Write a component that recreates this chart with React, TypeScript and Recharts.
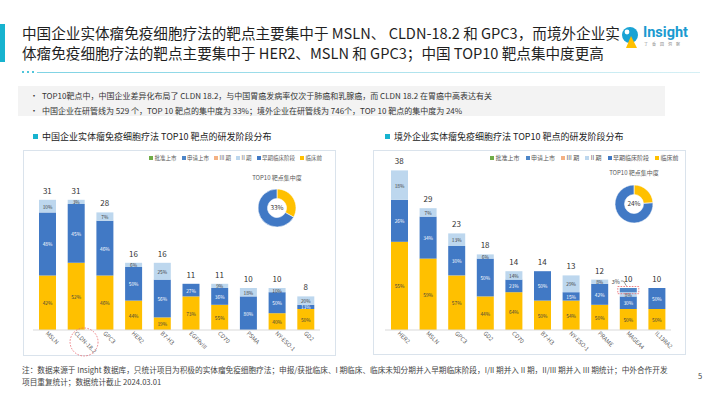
import React from "react";
import { ComposedChart, Bar, Line, XAxis, YAxis, LabelList, PieChart, Pie, Cell, Label } from "recharts";

const FONT = '"Noto Sans CJK SC", "Noto Sans", sans-serif';

// 中国企业 TOP10 靶点（项目数）
const cnTargets = ["MSLN", "CLDN-18.2", "GPC3", "HER2", "B7-H3", "EGFRvIII", "CD70", "PSMA", "NY-ESO-1", "GD2"];
const cnPreclinical = [13, 16, 13, 7, 3, 8, 6, 0, 4, 5];
const cnEarly = [15, 14, 13, 8, 9, 3, 4, 8, 5, 1];
const cnPhase2 = [3, 1, 2, 1, 4, 0, 1, 2, 1, 2];
const cnPhase3 = [0, 0, 0, 0, 0, 0, 0, 0, 0, 0];
const cnFiling = [0, 0, 0, 0, 0, 0, 0, 0, 0, 0];
const cnApproved = [0, 0, 0, 0, 0, 0, 0, 0, 0, 0];

// 境外企业 TOP10 靶点（项目数）
const osTargets = ["HER2", "MSLN", "GPC3", "GD2", "CD70", "B7-H3", "NY-ESO-1", "PRAME", "MAGEA4", "IL13RA2"];
const osPreclinical = [21, 17, 13, 8, 9, 7, 7, 6, 5, 5];
const osEarly = [10, 10, 7, 9, 3, 7, 2, 5, 3, 5];
const osPhase2 = [7, 2, 3, 1, 2, 0, 4, 1, 1, 0];
const osPhase3 = [0, 0, 0, 0, 0, 0, 0, 0, 0, 0];
const osFiling = [0, 0, 0, 0, 0, 0, 0, 0, 1, 0];
const osApproved = [0, 0, 0, 0, 0, 0, 0, 0, 0, 0];

// TOP10 靶点集中度
const cnConcentration = [33, 67];
const osConcentration = [24, 76];

const COLORS = {
  pre: "#ffc000",
  early: "#4179c5",
  p2: "#bdd7ee",
  p3: "#f4b183",
  filing: "#4e86c8",
  approved: "#70ad47",
};

const LEGEND = [
  { key: "approved", name: "批准上市" },
  { key: "filing", name: "申请上市" },
  { key: "p3", name: "III 期" },
  { key: "p2", name: "II 期" },
  { key: "early", name: "早期临床阶段" },
  { key: "pre", name: "临床前" },
];

function buildData(names, pre, early, p2, p3, filing, approved) {
  return names.map((name, i) => ({
    name,
    pre: pre[i],
    early: early[i],
    p2: p2[i],
    p3: p3[i],
    filing: filing[i],
    approved: approved[i],
    total: pre[i] + early[i] + p2[i] + p3[i] + filing[i] + approved[i],
  }));
}

const cnData = buildData(cnTargets, cnPreclinical, cnEarly, cnPhase2, cnPhase3, cnFiling, cnApproved);
const osData = buildData(osTargets, osPreclinical, osEarly, osPhase2, osPhase3, osFiling, osApproved);

function AngledTick(props) {
  const { x, y, payload } = props;
  return (
    <g transform={`translate(${x},${y})`}>
      {payload.value === "CLDN-18.2" && (
        <circle cx={8} cy={9} r={14} fill="none" stroke="#e8636b" strokeWidth={0.8} strokeDasharray="1.6 1.4" />
      )}
      <text x={-1} y={2} transform="rotate(45)" textAnchor="start" fontSize={5.8} fill="#595959" fontFamily={FONT}>
        {payload.value}
      </text>
    </g>
  );
}

function pctLabel(data, color) {
  return (props) => {
    const { x, y, width, height, value, index } = props;
    if (!value) return null;
    const pct = Math.round((value / data[index].total) * 100);
    return (
      <text
        x={x + width / 2}
        y={y + height / 2}
        textAnchor="middle"
        dominantBaseline="central"
        fontSize={4.8}
        fill={color}
        fontFamily={FONT}
      >
        {pct}%
      </text>
    );
  };
}

function filingNote(data) {
  return (props) => {
    const { x, y, width, height, value, index } = props;
    if (!value) return null;
    const pct = Math.round((value / data[index].total) * 100);
    return (
      <g>
        <rect x={x - 2} y={y - 1.5} width={width + 4} height={height + 3} fill="none" stroke="#e8636b" strokeWidth={0.8} strokeDasharray="1.6 1.2" />
        <text x={x} y={y - 6} textAnchor="end" dominantBaseline="central" fontSize={5.5} fill="#404040" fontFamily={FONT}>
          {pct}%
        </text>
        <path d={`M${x + 1},${y - 7} q3,-1 4,2 t2,3`} fill="none" stroke="#404040" strokeWidth={0.5} />
      </g>
    );
  };
}

function StageChart({ data, left, marginLeft, marginRight }) {
  return (
    <div style={{ position: "absolute", left, top: 150 }}>
      <ComposedChart
        width={313}
        height={207}
        data={data}
        margin={{ top: 12, right: marginRight, bottom: 2, left: marginLeft }}
      >
        <XAxis
          dataKey="name"
          interval={0}
          height={25}
          tickLine={false}
          tickSize={0}
          tickMargin={3}
          axisLine={{ stroke: "#d9d9d9" }}
          tick={<AngledTick />}
        />
        <YAxis hide domain={[0, 40]} />
        <Bar dataKey="pre" stackId="s" barSize={17} fill={COLORS.pre} isAnimationActive={false}>
          <LabelList dataKey="pre" content={pctLabel(data, "#404040")} />
        </Bar>
        <Bar dataKey="early" stackId="s" barSize={17} fill={COLORS.early} isAnimationActive={false}>
          <LabelList dataKey="early" content={pctLabel(data, "#ffffff")} />
        </Bar>
        <Bar dataKey="p2" stackId="s" barSize={17} fill={COLORS.p2} isAnimationActive={false}>
          <LabelList dataKey="p2" content={pctLabel(data, "#404040")} />
        </Bar>
        <Bar dataKey="p3" stackId="s" barSize={17} fill={COLORS.p3} isAnimationActive={false} />
        <Bar dataKey="filing" stackId="s" barSize={17} fill={COLORS.filing} isAnimationActive={false}>
          <LabelList dataKey="filing" content={filingNote(data)} />
        </Bar>
        <Bar dataKey="approved" stackId="s" barSize={17} fill={COLORS.approved} isAnimationActive={false} />
        <Line dataKey="total" stroke="none" dot={false} activeDot={false} isAnimationActive={false}>
          <LabelList dataKey="total" position="top" offset={6} fontSize={8} fill="#333333" fontFamily={FONT} />
        </Line>
      </ComposedChart>
    </div>
  );
}

function Concentration({ values, cx, cy, titleY }) {
  const slices = [
    { name: "TOP10", value: values[0] },
    { name: "其他", value: values[1] },
  ];
  return (
    <>
      <div
        style={{
          position: "absolute",
          left: cx - 40,
          width: 80,
          top: titleY - 5,
          textAlign: "center",
          fontSize: 6,
          lineHeight: "10px",
          color: "#595959",
        }}
      >
        TOP10 靶点集中度
      </div>
      <div style={{ position: "absolute", left: cx - 25, top: cy - 25 }}>
        <PieChart width={50} height={50} margin={{ top: 0, right: 0, bottom: 0, left: 0 }}>
          <Pie
            data={slices}
            dataKey="value"
            cx={25}
            cy={25}
            innerRadius={9.5}
            outerRadius={19}
            startAngle={90}
            endAngle={-270}
            stroke="#ffffff"
            strokeWidth={0.6}
            isAnimationActive={false}
          >
            <Cell fill={COLORS.pre} />
            <Cell fill={COLORS.early} />
            <Label value={`${values[0]}%`} position="center" fontSize={6.5} fill="#333333" fontFamily={FONT} />
          </Pie>
        </PieChart>
      </div>
    </>
  );
}

function StageLegend({ left, fontSize, gap }) {
  return (
    <div
      style={{
        position: "absolute",
        left,
        top: 154,
        display: "flex",
        gap,
        fontSize,
        lineHeight: "8px",
        color: "#595959",
        whiteSpace: "nowrap",
      }}
    >
      {LEGEND.map((l) => (
        <div key={l.key} style={{ display: "flex", alignItems: "center", gap: 1.5 }}>
          <span style={{ width: 4, height: 4, background: COLORS[l.key], display: "inline-block" }} />
          <span>{l.name}</span>
        </div>
      ))}
    </div>
  );
}

export default function App() {
  return (
    <div
      style={{
        position: "absolute",
        left: 0,
        top: 0,
        width: 710,
        height: 399,
        background: "#ffffff",
        overflow: "hidden",
        fontFamily: FONT,
      }}
    >
      <div style={{ position: "absolute", left: 0, top: 24, width: 5, height: 38, background: "#17b3cf" }} />
      <div
        style={{
          position: "absolute",
          left: 22,
          top: 23,
          fontSize: 14.6,
          lineHeight: "19.5px",
          color: "#1f1f1f",
          whiteSpace: "nowrap",
        }}
      >
        <div>中国企业实体瘤免疫细胞疗法的靶点主要集中于 MSLN、 CLDN-18.2 和 GPC3，而境外企业实</div>
        <div>体瘤免疫细胞疗法的靶点主要集中于 HER2、MSLN 和 GPC3；中国 TOP10 靶点集中度更高</div>
      </div>

      {/* logo */}
      <svg style={{ position: "absolute", left: 618, top: 25 }} width={26} height={24}>
        <circle cx={12} cy={10} r={8} fill="#1aa3d4" />
        <circle cx={9} cy={7} r={2.4} fill="#ffffff" />
        <path d="M13,11 L19,23 L8,23 Z" fill="#ffc000" />
      </svg>
      <div style={{ position: "absolute", left: 643, top: 24, fontSize: 14.5, fontWeight: 700, color: "#1a9ad0", lineHeight: "18px", fontFamily: "Roboto, sans-serif" }}>
        Insight
      </div>
      <div style={{ position: "absolute", left: 644, top: 41, fontSize: 4, color: "#888", letterSpacing: 4, lineHeight: "6px" }}>
        丁香园洞察
      </div>

      {/* divider */}
      {[22, 27, 32].map((x) => (
        <div key={x} style={{ position: "absolute", left: x, top: 71, width: 2, height: 2, borderRadius: 1, background: "#17b3cf" }} />
      ))}
      <div
        style={{
          position: "absolute",
          left: 37,
          top: 71.5,
          width: 663,
          height: 1.2,
          background: "linear-gradient(90deg, #7fd3e4, #d6f0f5)",
        }}
      />

      {/* bullets */}
      <div style={{ position: "absolute", left: 18, top: 86, width: 647, height: 30, background: "#f3f3f3" }} />
      <div style={{ position: "absolute", left: 30, top: 88, fontSize: 8, lineHeight: "15px", color: "#333333", whiteSpace: "nowrap" }}>
        <div>
          <span style={{ display: "inline-block", width: 12 }}>•</span>
          TOP10靶点中，中国企业差异化布局了 CLDN 18.2，与中国胃癌发病率仅次于肺癌和乳腺癌，而 CLDN 18.2 在胃癌中高表达有关
        </div>
        <div>
          <span style={{ display: "inline-block", width: 12 }}>•</span>
          中国企业在研管线为 529 个，TOP 10 靶点的集中度为 33%；境外企业在研管线为 746个，TOP 10 靶点的集中度为 24%
        </div>
      </div>

      {/* section titles */}
      <div style={{ position: "absolute", left: 33, top: 134, width: 5, height: 5, background: "#17b3cf" }} />
      <div style={{ position: "absolute", left: 42, top: 131, fontSize: 9, lineHeight: "12px", color: "#222222", whiteSpace: "nowrap" }}>
        中国企业实体瘤免疫细胞疗法 TOP10 靶点的研发阶段分布
      </div>
      <div style={{ position: "absolute", left: 385, top: 134, width: 5, height: 5, background: "#17b3cf" }} />
      <div style={{ position: "absolute", left: 394, top: 131, fontSize: 9, lineHeight: "12px", color: "#222222", whiteSpace: "nowrap" }}>
        境外企业实体瘤免疫细胞疗法 TOP10 靶点的研发阶段分布
      </div>

      {/* chart frames */}
      <div style={{ position: "absolute", left: 23, top: 150, width: 311, height: 204, border: "1px solid #dae3ec" }} />
      <div style={{ position: "absolute", left: 373, top: 150, width: 311, height: 203, border: "1px solid #dae3ec" }} />

      <StageLegend left={149} fontSize={5.5} gap={5} />
      <StageLegend left={490} fontSize={6} gap={6} />

      <StageChart data={cnData} left={24} marginLeft={9} marginRight={17} />
      <StageChart data={osData} left={373} marginLeft={12} marginRight={15} />

      <Concentration values={cnConcentration} cx={277} cy={208} titleY={178} />
      <Concentration values={osConcentration} cx={634} cy={204} titleY={173} />

      {/* footnote */}
      <div style={{ position: "absolute", left: 22, top: 364, fontSize: 7.65, lineHeight: "11.5px", color: "#444444", whiteSpace: "nowrap" }}>
        <div>注：数据来源于 Insight 数据库，只统计项目为积极的实体瘤免疫细胞疗法；申报/获批临床、I 期临床、临床未知分期并入早期临床阶段，I/II 期并入 II 期，II/III 期并入 III 期统计；中外合作开发</div>
        <div>项目重复统计；数据统计截止 2024.03.01</div>
      </div>
      <div style={{ position: "absolute", left: 698, top: 370, fontSize: 7.5, color: "#444444" }}>5</div>
    </div>
  );
}
